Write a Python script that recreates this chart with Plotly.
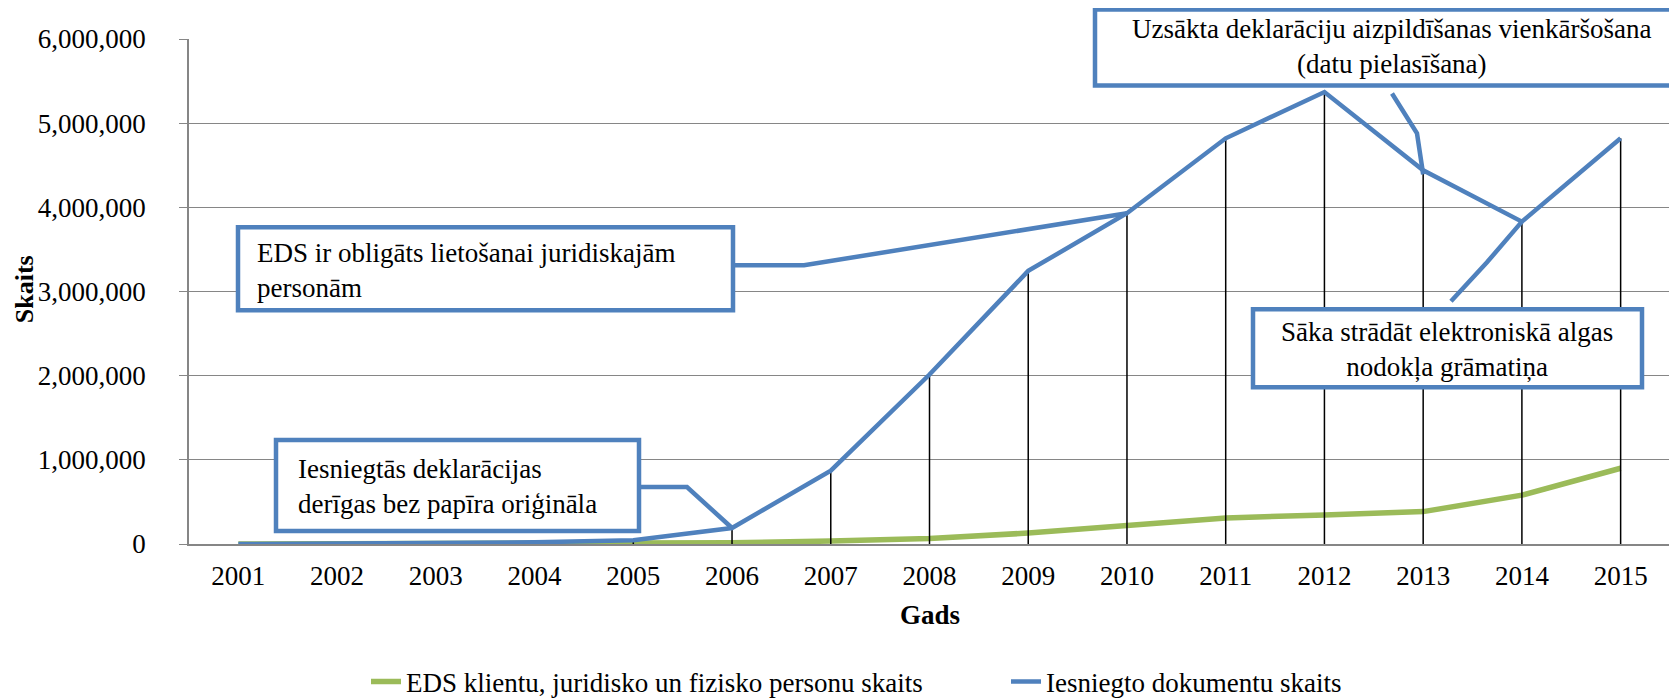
import plotly.graph_objects as go

years = [str(y) for y in range(2001, 2016)]
eds_clients = [0, 0, 0, 0, 5000, 15000, 35000, 65000, 130000, 215000, 310000, 345000, 385000, 580000, 900000]
documents = [0, 3000, 8000, 20000, 45000, 190000, 871000, 2014000, 3245000, 3930000, 4820000, 5370000, 4440000, 3830000, 4820000]
y_ticks = [0, 1000000, 2000000, 3000000, 4000000, 5000000, 6000000]

callouts = [
    "Iesniegtās deklarācijas<br>derīgas bez papīra oriģināla",
    "EDS ir obligāts lietošanai juridiskajām<br>personām",
    "Uzsākta deklarāciju aizpildīšanas vienkāršošana<br>(datu pielasīšana)",
    "Sāka strādāt elektroniskā algas<br>nodokļa grāmatiņa",
]

# page body has an 8px margin; figure is sized to fill the rest of the window
OFF = 8
W, H = 1677 - OFF, 698 - OFF
PL, PR, PT, PB = 189, 1670, 38.5, 544   # plot area in window pixels
PW = PR - PL
PH = PB - PT
FONT = "Times New Roman, Liberation Serif, serif"
FS = 27
BLUE = "#4F81BD"
GREEN = "#9BBB59"


def px(X):
    return (X - PL) / PW


def py(Y):
    return (PB - Y) / PH


def dpx(i):
    return (i + 0.5) / len(years)


def dpy(v):
    return v / y_ticks[-1]


# drop lines from series points to axis
drop_x, drop_y = [], []
for yr, v in zip(years, documents):
    drop_x += [yr, yr, None]
    drop_y += [0, v, None]

fig = go.Figure()
fig.add_trace(go.Scatter(x=years, y=eds_clients, mode="lines",
                         name="EDS klientu, juridisko un fizisko personu skaits",
                         line=dict(color=GREEN, width=5.5)))
fig.add_trace(go.Scatter(x=drop_x, y=drop_y, mode="lines", showlegend=False,
                         hoverinfo="skip", line=dict(color="black", width=1.5)))
fig.add_trace(go.Scatter(x=years, y=documents, mode="lines",
                         name="Iesniegto dokumentu skaits",
                         line=dict(color=BLUE, width=4.5)))

shapes = []
annotations = []

# callout boxes (pixel geometry) : x0, x1, y0(top), y1(bottom)
boxes = [
    (276, 639, 440, 531),
    (238, 733, 227, 310),
    (1095, 1720, 9, 85),
    (1253, 1642, 309, 387),
]
for x0, x1, y0, y1 in boxes:
    shapes.append(dict(type="rect", xref="paper", yref="paper",
                       x0=px(x0), x1=px(x1), y0=py(y1), y1=py(y0),
                       line=dict(color=BLUE, width=4.5), fillcolor="white", layer="above"))

# leader lines: bends in pixels, end at data point
leaders = [
    ([(639, 487), (687, 487)], 5),
    ([(733, 265), (804, 265)], 9),
    ([(1392, 93), (1417, 133)], 12),
    ([(1451, 301), (1487, 262)], 13),
]
for pts, idx in leaders:
    path = "M {} {}".format(px(pts[0][0]), py(pts[0][1]))
    for X, Y in pts[1:]:
        path += " L {} {}".format(px(X), py(Y))
    endy = dpy(documents[idx])
    if idx == 12:
        endy -= 4 / PH
    path += " L {} {}".format(dpx(idx), endy)
    shapes.append(dict(type="path", xref="paper", yref="paper", path=path,
                       line=dict(color=BLUE, width=4.5), layer="above"))

# callout texts
text_pos = [
    (296, 486, "left"),
    (255, 270, "left"),
    (1392, 46, "center"),
    (1447, 349, "center"),
]
for (X, Y, anchor), txt in zip(text_pos, callouts):
    annotations.append(dict(xref="paper", yref="paper", x=px(X), y=py(Y),
                            text=txt, showarrow=False, xanchor=anchor, yanchor="middle",
                            align=anchor, font=dict(family=FONT, size=FS, color="black")))

annotations.append(dict(xref="paper", yref="paper", x=px(24), y=py(289), text="<b>Skaits</b>",
                        textangle=-90, showarrow=False, xanchor="center", yanchor="middle",
                        font=dict(family=FONT, size=26, color="black")))
annotations.append(dict(xref="paper", yref="paper", x=0.5, y=py(615), text="<b>Gads</b>",
                        showarrow=False, xanchor="center", yanchor="middle",
                        font=dict(family=FONT, size=FS, color="black")))

fig.update_layout(
    width=W, height=H,
    margin=dict(l=PL - OFF, r=W - (PR - OFF), t=PT - OFF, b=H - (PB - OFF), pad=0,
                autoexpand=False),
    paper_bgcolor="white", plot_bgcolor="white",
    font=dict(family=FONT, size=FS, color="black"),
    shapes=shapes, annotations=annotations,
    showlegend=True,
    legend=dict(orientation="h", x=px(366), xanchor="left", y=py(682), yanchor="middle",
                font=dict(family=FONT, size=FS, color="black"), entrywidth=595,
                entrywidthmode="pixels", bgcolor="rgba(0,0,0,0)"),
    xaxis=dict(type="category", range=[-0.5, len(years) - 0.5], showgrid=False,
               showline=True, linecolor="#868686", linewidth=1.5, ticks="",
               tickfont=dict(family=FONT, size=FS), ticklabelstandoff=7, fixedrange=True,
               automargin=False),
    yaxis=dict(range=[0, y_ticks[-1]], tickvals=y_ticks, tickformat=",", showgrid=True,
               gridcolor="#868686", gridwidth=1.2, showline=True, linecolor="#868686",
               linewidth=1.5, ticks="outside", ticklen=8, tickcolor="#868686",
               tickfont=dict(family=FONT, size=FS), ticklabelstandoff=28, zeroline=False,
               automargin=False),
)

fig.write_html("out.html")
